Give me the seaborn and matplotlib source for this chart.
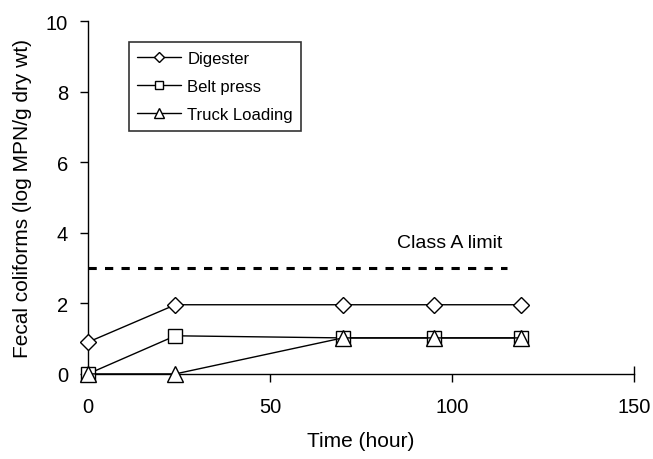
import matplotlib
matplotlib.use("Agg")
import matplotlib.pyplot as plt
import numpy as np
import pandas as pd
import seaborn as sns

sns.set_theme(style="ticks")
plt.rcParams["font.family"] = ["Liberation Sans", "DejaVu Sans"]
plt.rcParams["text.color"] = "black"
plt.rcParams["axes.labelcolor"] = "black"
plt.rcParams["xtick.color"] = "black"
plt.rcParams["ytick.color"] = "black"

# Данные
hours = [0, 24, 70, 95, 119]
digester = [0.9, 1.96, 1.96, 1.96, 1.96]
belt_press = [0.0, 1.08, 1.02, 1.02, 1.02]
truck_loading = [0.0, 0.0, 1.02, 1.02, 1.02]
limit_x = [0, 115]
limit_y = [3, 3]

series = [
    ("Digester", digester, "D", 8.5),
    ("Belt press", belt_press, "s", 10.5),
    ("Truck Loading", truck_loading, "^", 11.5),
]

fig = plt.figure(figsize=(6.53, 4.6), dpi=100)
ax = fig.add_axes([0.1348, 0.185, 0.836, 0.767])

for name, vals, mk, ms in series:
    df = pd.DataFrame({"t": hours, "v": vals})
    sns.lineplot(
        data=df, x="t", y="v", ax=ax, color="black", linewidth=1.0,
        marker=mk, markersize=ms, markerfacecolor="white",
        markeredgecolor="black", markeredgewidth=1.0, label=name,
        clip_on=False, zorder=3,
    )

ax.plot(limit_x, limit_y, color="black", linestyle=(0, (2.7, 2.7)),
        linewidth=2.2, clip_on=False)
ax.text(85, 3.6, "Class A limit", fontsize=14, color="black", va="baseline")

ax.set_xlim(0, 150)
ax.set_ylim(0, 10)
ax.set_xticks([0, 50, 100, 150])
ax.set_yticks([0, 2, 4, 6, 8, 10])
ax.set_xlabel("Time (hour)", fontsize=15, labelpad=11)
ax.set_ylabel("Fecal coliforms (log MPN/g dry wt)", fontsize=15, labelpad=10)
ax.tick_params(axis="both", labelsize=14.5, length=5.5, width=1,
               color="black", labelcolor="black", direction="out")
ax.tick_params(axis="x", pad=11)
ax.tick_params(axis="y", pad=9)
# крайняя метка оси X пересекает ось
last_tick = ax.xaxis.get_major_ticks()[-1]
last_tick.tick1line.set_marker("|")
last_tick.tick1line.set_markersize(12)

for side in ["top", "right"]:
    ax.spines[side].set_visible(False)
for side in ["left", "bottom"]:
    ax.spines[side].set_color("black")
    ax.spines[side].set_linewidth(1.0)

leg = ax.legend(
    loc="upper left", bbox_to_anchor=(0.075, 0.94), fontsize=12,
    frameon=True, fancybox=False, edgecolor="black", handlelength=2.6,
    handletextpad=0.4, borderpad=0.5, labelspacing=0.8, markerscale=0.6,
    borderaxespad=0,
)
leg.get_frame().set_linewidth(1.2)
for t in leg.get_texts():
    t.set_color("black")

fig.savefig("out.png", dpi=100)
